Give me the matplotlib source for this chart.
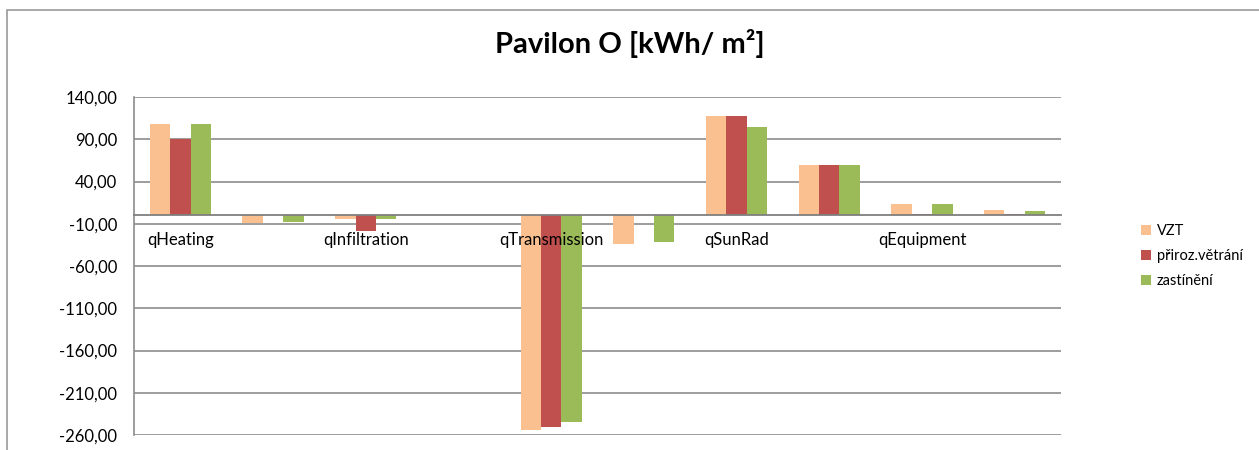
import numpy as np
import matplotlib.pyplot as plt
from matplotlib.patches import Rectangle

# categories (Excel shows only every second label)
labels = ['qHeating', '', 'qInfiltration', '', 'qTransmission', '',
          'qSunRad', '', 'qEquipment', '']
series = ['VZT', 'přiroz.větrání', 'zastínění']
vzt = [108.0, -9.5, -4.7, 0.0, -254.5, -34.0, 118.0, 59.0, 13.4, 6.6]
prirozene = [90.3, 0.0, -18.0, 0.0, -250.0, 0.0, 118.0, 59.0, 2.0, 2.0]
zastineni = [108.0, -8.0, -4.5, 0.0, -245.0, -32.0, 104.0, 59.0, 13.4, 5.0]
colors = ['#FAC090', '#C0504D', '#9BBB59']
yticks = np.arange(-260, 141, 50)

plt.rcParams['font.family'] = ['Lato', 'DejaVu Sans']

def main():
    fig = plt.figure(figsize=(12.59, 4.5), dpi=100)
    fig.patches.append(Rectangle((7/1259, -0.1), 1.1, 1 - 10/450 + 0.1,
                                 transform=fig.transFigure, fill=False,
                                 edgecolor='#9a9a9a', linewidth=1.2))
    ax = fig.add_axes([134/1259, 1 - 435/450, (1061 - 134)/1259, (435 - 97)/450])

    x = np.arange(len(labels))
    w = 0.22
    for i, (vals, name) in enumerate(zip([vzt, prirozene, zastineni], series)):
        ax.bar(x + (i - 1)*w, vals, w, color=colors[i], label=name, zorder=3)

    ax.set_xlim(-0.5, len(labels) - 0.5)
    ax.set_ylim(-260, 140)
    ax.set_yticks(yticks)
    ax.set_yticklabels([('%.2f' % v).replace('.', ',') for v in yticks])
    ax.yaxis.grid(True, color='#8c8c8c', linewidth=1.2)
    ax.yaxis.set_zorder(0.5)
    ax.xaxis.set_zorder(5)

    ax.set_xticks(x)
    ax.set_xticklabels(labels)
    ax.spines['bottom'].set_position(('data', 0))
    ax.spines['bottom'].set_color('#7f7f7f')
    ax.spines['bottom'].set_linewidth(1.3)
    ax.spines['bottom'].set_zorder(4)
    ax.spines['left'].set_color('#8c8c8c')
    ax.spines['left'].set_linewidth(1.2)
    ax.spines['top'].set_visible(False)
    ax.spines['right'].set_visible(False)
    ax.tick_params(axis='x', length=0, pad=12, labelsize=12)
    ax.tick_params(axis='y', length=0, pad=12, labelsize=12)

    fig.suptitle('Pavilon O [kWh/ m²]', x=0.5, y=0.935, fontsize=21,
                 fontweight='bold')
    ax.legend(loc='center left', bbox_to_anchor=(1.072, 0.53),
              frameon=False, fontsize=10.5, handlelength=0.7, handleheight=0.7,
              labelspacing=0.75, handletextpad=0.4)
    fig.savefig('out.png', dpi=100)

if __name__ == "__main__":
    main()
